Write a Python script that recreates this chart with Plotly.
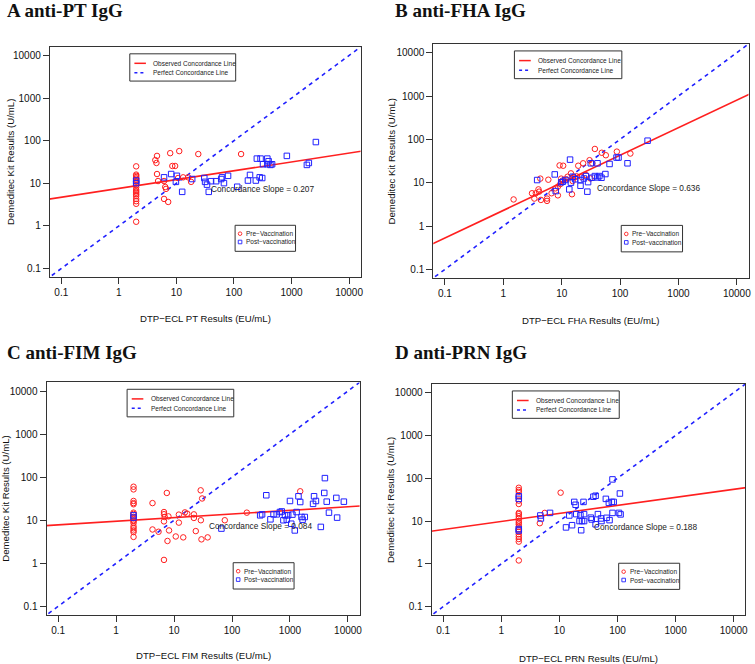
import plotly.graph_objects as go

# ---------------- data ----------------
tick_vals = [0.1, 1, 10, 100, 1000, 10000]
tick_text = ["0.1", "1", "10", "100", "1000", "10000"]

panel_titles = ["A anti-PT IgG", "B anti-FHA IgG", "C anti-FIM IgG", "D anti-PRN IgG"]
x_labels = ["DTP\u2212ECL PT Results (EU/mL)", "DTP\u2212ECL FHA Results (EU/mL)",
            "DTP\u2212ECL FIM Results (EU/mL)", "DTP\u2212ECL PRN Results (EU/mL)"]
y_label = "Demeditec Kit Results (U/mL)"

concordance_slopes = [0.207, 0.636, 0.084, 0.188]
concordance_log_intercepts = [0.88, 0.36, 0.977, 0.99]

# Panel A: PT
pt_pre_x = [2, 2, 2, 2, 2, 2, 2, 2, 2, 2, 2, 2, 2, 2, 2, 2, 2, 2, 2,
            4.6, 4.5, 7.8, 11.2, 24, 133, 8.5, 9.5, 4.6, 4.8, 6.1, 6.4, 6.6, 6.1, 7.2,
            10.7, 13.1, 16, 18, 4.3]
pt_pre_y = [25, 16, 15, 14, 13, 12, 11, 10, 9, 8, 7, 6.5, 6, 5.5, 5, 4.3, 3.8, 3.3, 1.25,
            44, 30, 51, 57, 48.6, 48.6, 25.5, 25.5, 16.5, 11.3, 11.3, 8.2, 7.4, 4.3, 3.65,
            13.3, 13.8, 13.8, 10.8, 35]
pt_post_x = [2, 2, 6.1, 8.1, 10.2, 9.8, 12.6, 18.8, 30.5, 31.5, 34, 36.5, 40, 49, 60, 62, 67,
             79, 114, 175, 190, 240, 280, 310, 250, 290, 320, 380, 380, 400, 430, 460, 830,
             1850, 2000, 2650]
pt_post_y = [10.1, 11.6, 13.8, 16.5, 15, 10.8, 6.3, 12.6, 13.3, 10.8, 9.3, 6.3, 11.2, 11.2,
             12.6, 13.8, 10.1, 15, 8.3, 11.6, 15.7, 11.6, 13.8, 13.3, 38, 38, 28, 28, 38, 33,
             27, 28, 44, 27, 30, 93]

# Panel B: FHA
fha_pre_x = [1.5, 3.1, 3.4, 3.6, 4.0, 4.1, 4.3, 4.4, 5.6, 5.6, 5.9, 6.7, 8.6, 8.6, 9.2, 10.6,
             9.8, 10.4, 12.6, 14.4, 15, 15.4, 16.5, 19.2, 23.3, 30, 33.5, 37, 48.6, 57, 88,
             150, 7.8, 9.5, 18, 22, 26, 31, 12]
fha_pre_y = [4.1, 5.7, 4.3, 5.7, 7.0, 6.2, 12.4, 4.0, 4.3, 3.8, 11.7, 5.7, 5.1, 8.1, 25, 24.6,
             12.4, 11.2, 13.7, 16.4, 5.4, 10.9, 13.2, 24.6, 28, 33, 28, 60, 49, 43, 52, 47,
             7.4, 9.3, 14, 13.5, 15, 12.5, 12]
fha_post_x = [3.8, 7.6, 7.9, 9.8, 10.4, 11.5, 13.9, 13.5, 14.4, 15.4, 21, 21, 26, 27.5, 28.3,
              31.5, 37, 41, 41, 44, 56, 66, 87, 94, 134, 296, 17, 24, 33, 48]
fha_post_y = [11.5, 15.5, 6.4, 10.2, 10.5, 11.5, 34, 7.0, 10, 13.7, 11.5, 8.5, 14.2, 6.2, 10.3,
              28, 14.2, 28, 13.2, 14.2, 15.8, 27, 38, 38, 28, 93, 12, 12.5, 13, 13]

# Panel C: FIM
fim_pre_x = [2, 2, 2, 2, 2, 2, 2, 2, 2, 2, 2, 2, 2, 2, 2, 2, 2,
             4.25, 4.25, 5.4, 6.7, 6.7, 6.9, 6.7, 6.7, 7.5, 8.0, 8.2, 7.7, 10.7, 12.1, 12.1,
             14.4, 15.4, 16.9, 22, 22, 23.7, 28.8, 30.5, 29, 29.7, 38, 75, 180, 1500]
fim_pre_y = [60, 52, 28, 25, 23.5, 15, 14, 12, 11, 10, 9.5, 8.6, 7.2, 6.5, 5.8, 5.3, 4.1,
             25, 6.1, 5.4, 15.5, 13.8, 11.9, 9.4, 1.2, 43, 12.3, 5.8, 3.3, 4.2, 13.5, 8.8,
             4.0, 15.2, 14.2, 13.7, 11.3, 5.6, 49.5, 32, 10, 3.6, 4.0, 10, 15, 47]
fim_post_x = [2, 2, 65.6, 306, 330, 390, 460, 520, 590, 670, 720, 770, 820, 880, 930, 1000,
              1050, 1100, 1210, 1300, 1400, 1500, 1580, 1650, 1800, 2500, 2600, 2800, 3400,
              3900, 4000, 4300, 4700, 6300, 6500, 8500]
fim_post_y = [13, 11.5, 6.4, 13, 13.7, 38, 10.5, 13.7, 13.7, 15.5, 16, 10, 13, 10.3, 13, 28,
              8.3, 13.5, 5.8, 15.5, 36, 26.5, 11.9, 10.3, 11.9, 24, 36, 28, 7, 43, 95, 27, 15,
              33, 11.5, 27]

# Panel D: PRN
prn_pre_x = [2, 2, 2, 2, 2, 2, 2, 2, 2, 2, 2, 2, 2, 2, 2, 2, 2, 2, 2, 2, 2,
             4.6, 5.6, 10.5]
prn_pre_y = [60, 53, 48, 39, 30, 25, 15.5, 14.5, 13, 11.6, 10.1, 9.1, 8.3, 7.3, 6.3, 5.6, 4.9,
             4.3, 3.8, 3.3, 1.2,
             8.9, 15.5, 46]
prn_post_x = [2, 2, 2, 2, 4.7, 4.8, 6.9, 13, 14.8, 16.5, 18, 19, 19.5, 22.2, 23, 23.7, 24.5,
              26, 26.6, 26.6, 34.7, 36, 38.5, 42, 42, 46, 52, 53, 63, 65, 71, 73, 80, 82, 82,
              86, 106, 110, 113]
prn_post_y = [38, 33, 6.5, 6, 13.5, 11.5, 15.5, 7.1, 13.5, 8, 28, 24, 14.5, 10, 13.7, 6.1, 10,
              28, 14.5, 10, 12, 10.9, 37, 39, 8.4, 14.5, 11.5, 10, 33, 11.9, 26.7, 10.5, 28,
              15.5, 94, 28, 15.5, 44, 14.3]

# ---------------- layout geometry ----------------
W, H = 755, 664
SANS = "Liberation Sans, Arial, Helvetica, sans-serif"
SERIF = "Liberation Serif, Times New Roman, serif"
RED = "#ff1f1f"
BLUE = "#2020ff"
FRAME = "#333333"
LOG_RANGE = [-1.2, 4.2]

# plot frames in pixels: left, right, top, bottom
frames = [(50, 362, 47, 277), (435, 751.5, 44, 278),
          (46.7, 361, 382.4, 615), (433.3, 748.3, 384.1, 615.2)]
title_pos = [(6, 11), (396, 11), (6, 353), (396, 353)]
ytitle_x = [10, 393, 6, 392]
xtitle_y = [318, 320, 655, 658]

pre_x = [pt_pre_x, fha_pre_x, fim_pre_x, prn_pre_x]
pre_y = [pt_pre_y, fha_pre_y, fim_pre_y, prn_pre_y]
post_x = [pt_post_x, fha_post_x, fim_post_x, prn_post_x]
post_y = [pt_post_y, fha_post_y, fim_post_y, prn_post_y]


def px2paper(px, py):
    return px / W, 1 - py / H


def log2px(frame, lx, ly):
    l, r, t, b = frame
    px = l + (lx - LOG_RANGE[0]) / (LOG_RANGE[1] - LOG_RANGE[0]) * (r - l)
    py = t + (LOG_RANGE[1] - ly) / (LOG_RANGE[1] - LOG_RANGE[0]) * (b - t)
    return px, py


fig = go.Figure()
layout = dict(width=W, height=H, margin=dict(l=0, r=0, t=0, b=0),
              paper_bgcolor="white", plot_bgcolor="white", showlegend=False)
annotations = []
shapes = []

x_lo, x_hi = 10 ** (LOG_RANGE[0] - 0.3), 10 ** (LOG_RANGE[1] + 0.3)

for i in range(4):
    n = "" if i == 0 else str(i + 1)
    xa, ya = "x" + n, "y" + n
    l, r, t, b = frames[i]
    axis_common = dict(type="log", range=LOG_RANGE, tickvals=tick_vals, ticktext=tick_text,
                       ticks="outside", ticklen=6, tickwidth=1, tickcolor=FRAME,
                       showline=True, mirror=True, linecolor=FRAME, linewidth=1,
                       showgrid=False, zeroline=False, fixedrange=True,
                       tickfont=dict(family=SANS, size=10, color="#111"))
    layout["xaxis" + n] = dict(axis_common, domain=[l / W, r / W], anchor=ya)
    layout["yaxis" + n] = dict(axis_common, domain=[1 - b / H, 1 - t / H], anchor=xa)

    # perfect concordance line (y = x)
    fig.add_trace(go.Scatter(x=[x_lo, x_hi], y=[x_lo, x_hi], mode="lines", xaxis=xa, yaxis=ya,
                             line=dict(color=BLUE, width=1.6, dash="4px,4px"), hoverinfo="skip"))
    # observed concordance line
    s, c = concordance_slopes[i], concordance_log_intercepts[i]
    fig.add_trace(go.Scatter(x=[x_lo, x_hi],
                             y=[10 ** (c + s * (LOG_RANGE[0] - 0.3)), 10 ** (c + s * (LOG_RANGE[1] + 0.3))],
                             mode="lines", xaxis=xa, yaxis=ya,
                             line=dict(color=RED, width=1.6), hoverinfo="skip"))
    # points
    fig.add_trace(go.Scatter(x=pre_x[i], y=pre_y[i], mode="markers", xaxis=xa, yaxis=ya,
                             name="Pre\u2212Vaccination",
                             marker=dict(symbol="circle-open", size=5.5, color=RED,
                                         line=dict(width=1, color=RED))))
    fig.add_trace(go.Scatter(x=post_x[i], y=post_y[i], mode="markers", xaxis=xa, yaxis=ya,
                             name="Post\u2212vaccination",
                             marker=dict(symbol="square-open", size=5.5, color=BLUE,
                                         line=dict(width=1, color=BLUE))))

    # panel title
    tx, ty = px2paper(*title_pos[i])
    annotations.append(dict(text="<b>" + panel_titles[i] + "</b>", x=tx, y=ty, xref="paper",
                            yref="paper", xanchor="left", yanchor="middle", showarrow=False,
                            borderpad=0,
                            font=dict(family=SERIF, size=19, color="#111")))
    # axis titles
    ax_, ay_ = px2paper(ytitle_x[i], (t + b) / 2)
    annotations.append(dict(text=y_label, x=ax_, y=ay_, xref="paper", yref="paper",
                            textangle=-90, showarrow=False, xanchor="center", yanchor="middle",
                            font=dict(family=SANS, size=9.6, color="#111")))
    bx, by = px2paper((l + r) / 2, xtitle_y[i])
    annotations.append(dict(text=x_labels[i], x=bx, y=by, xref="paper", yref="paper",
                            showarrow=False, xanchor="center", yanchor="middle",
                            font=dict(family=SANS, size=9.6, color="#111")))
    # slope text
    sx, sy = px2paper(*log2px(frames[i], 2.49, 0.866))
    annotations.append(dict(text="Concordance Slope = %.3f" % s, x=sx, y=sy, xref="paper",
                            yref="paper", showarrow=False, xanchor="center", yanchor="middle",
                            font=dict(family=SANS, size=8.3, color="#222")))

    # ---- top legend (lines) ----
    x0, y0 = px2paper(*log2px(frames[i], 0.19, 4.04))
    x1, y1 = px2paper(*log2px(frames[i], 2.03, 3.40))
    shapes.append(dict(type="rect", xref="paper", yref="paper", x0=x0, x1=x1, y0=y0, y1=y1,
                       line=dict(color=FRAME, width=1), fillcolor="white", layer="above"))
    for row, (lbl, col, dash) in enumerate([("Observed Concordance Line", RED, "solid"),
                                             ("Perfect Concordance Line", BLUE, "3px,3px")]):
        ly = 3.817 if row == 0 else 3.597
        ax0, ayy = px2paper(*log2px(frames[i], 0.27, ly))
        ax1, _ = px2paper(*log2px(frames[i], 0.47, ly))
        shapes.append(dict(type="line", xref="paper", yref="paper", x0=ax0, x1=ax1, y0=ayy, y1=ayy,
                           line=dict(color=col, width=1.5, dash=dash), layer="above"))
        txx, _ = px2paper(*log2px(frames[i], 0.56, ly))
        annotations.append(dict(text=lbl, x=txx, y=ayy, xref="paper", yref="paper",
                                showarrow=False, xanchor="left", yanchor="middle",
                                font=dict(family=SANS, size=6.5, color="#222")))

    # ---- bottom legend (points) ----
    x0, y0 = px2paper(*log2px(frames[i], 2.02, 0.014))
    x1, y1 = px2paper(*log2px(frames[i], 3.07, -0.597))
    shapes.append(dict(type="rect", xref="paper", yref="paper", x0=x0, x1=x1, y0=y0, y1=y1,
                       line=dict(color=FRAME, width=1), fillcolor="white", layer="above"))
    for row, (lbl, col, kind) in enumerate([("Pre\u2212Vaccination", RED, "circle"),
                                             ("Post\u2212vaccination", BLUE, "rect")]):
        ly = -0.183 if row == 0 else -0.378
        cpx, cpy = log2px(frames[i], 2.106, ly)
        r_ = 1.8
        sx0, sy0 = px2paper(cpx - r_, cpy + r_)
        sx1, sy1 = px2paper(cpx + r_, cpy - r_)
        shapes.append(dict(type=kind, xref="paper", yref="paper", x0=sx0, x1=sx1, y0=sy0, y1=sy1,
                           line=dict(color=col, width=0.9), layer="above"))
        txx, tyy = px2paper(*log2px(frames[i], 2.175, ly))
        annotations.append(dict(text=lbl, x=txx, y=tyy, xref="paper", yref="paper",
                                showarrow=False, xanchor="left", yanchor="middle",
                                font=dict(family=SANS, size=6.5, color="#222")))

layout["annotations"] = annotations
layout["shapes"] = shapes
fig.update_layout(**layout)
fig.write_html("out.html", config={"displayModeBar": False, "staticPlot": True},
               post_script="document.body.style.margin='0';document.body.style.padding='0';"
                           "document.body.style.overflow='hidden';")
